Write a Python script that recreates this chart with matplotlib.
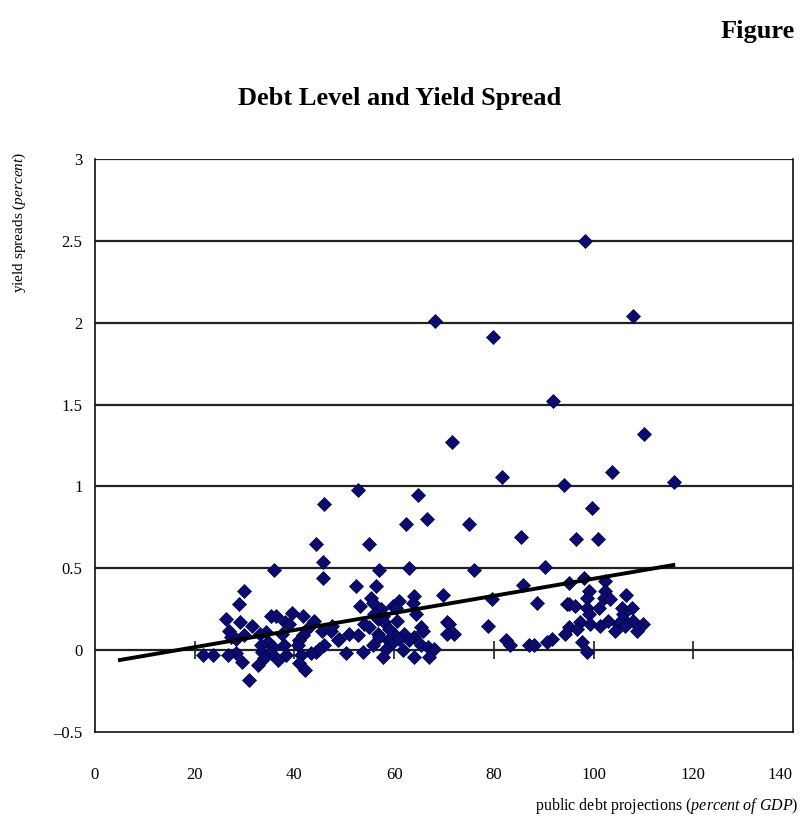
#!/usr/bin/env python3
import matplotlib
matplotlib.use("Agg")
import matplotlib.pyplot as plt

plt.rcParams['font.family'] = ['Liberation Serif', 'DejaVu Serif']
plt.rcParams['mathtext.fontset'] = 'custom'
plt.rcParams['mathtext.rm'] = 'Liberation Serif'
plt.rcParams['mathtext.it'] = 'Liberation Serif:italic'

# public debt projections (percent of GDP) vs yield spreads (percent)
debt = [98.3, 108.0, 68.2, 79.8, 91.8, 110.2, 71.7, 103.8, 116.1, 81.7,
        94.1, 52.7, 64.7, 46.0, 99.7, 66.5, 62.3, 75.1, 85.5, 96.5,
        100.8, 44.3, 55.0, 45.7, 36.0, 57.0, 63.0, 76.0, 90.2, 45.8,
        98.0, 52.3, 56.3, 85.8, 95.0, 102.3, 29.9, 69.9, 64.0, 106.5,
        102.3, 99.0, 55.3, 98.7, 102.0, 103.3, 79.7, 61.0, 28.8, 53.2,
        55.7, 59.7, 60.3, 63.7, 88.7, 94.7, 95.0, 96.3, 98.7, 101.0,
        105.7, 107.7, 57.3, 35.3, 36.3, 39.5, 41.7, 64.3, 57.7, 99.0,
        106.0, 26.3, 56.7, 106.0, 29.0, 38.2, 58.0, 70.7, 97.3, 103.0,
        108.0, 31.5, 39.0, 54.0, 71.0, 78.9, 99.3, 105.0, 110.0, 101.3,
        106.3, 43.0, 55.0, 65.3, 95.0, 96.7, 45.5, 47.3, 26.9, 65.7,
        104.3, 108.7, 34.3, 33.0, 72.0, 70.7, 51.0, 56.7, 60.0, 62.0,
        94.3, 29.8, 41.7, 52.7, 27.3, 64.0, 28.3, 49.0, 91.7, 48.7,
        41.0, 58.7, 63.0, 82.5, 34.7, 59.7, 90.7, 97.7, 33.3, 38.0,
        40.7, 46.0, 55.7, 65.3, 83.3, 87.0, 88.0, 35.7, 66.7, 45.0,
        58.3, 68.0, 61.7, 44.3, 53.7, 33.5, 98.7, 35.3, 28.2, 43.3,
        50.3, 21.7, 23.7, 26.7, 38.3, 41.3, 33.9, 57.7, 64.0, 67.0,
        29.5, 41.0, 32.7, 42.2, 30.9, 57.0, 59.0, 61.0, 56.0, 60.5,
        44.0, 47.5, 37.5, 36.7]
spread = [2.50, 2.04, 2.01, 1.91, 1.52, 1.32, 1.27, 1.09, 1.03, 1.06,
          1.01, 0.98, 0.95, 0.89, 0.87, 0.80, 0.77, 0.77, 0.69, 0.68,
          0.68, 0.65, 0.65, 0.54, 0.49, 0.49, 0.50, 0.49, 0.51, 0.44,
          0.44, 0.39, 0.39, 0.40, 0.41, 0.42, 0.36, 0.34, 0.33, 0.34,
          0.36, 0.36, 0.32, 0.32, 0.32, 0.31, 0.31, 0.30, 0.28, 0.27,
          0.29, 0.27, 0.26, 0.29, 0.29, 0.28, 0.28, 0.27, 0.26, 0.26,
          0.26, 0.26, 0.25, 0.21, 0.21, 0.23, 0.21, 0.22, 0.21, 0.22,
          0.22, 0.19, 0.19, 0.19, 0.17, 0.17, 0.17, 0.17, 0.17, 0.18,
          0.18, 0.15, 0.16, 0.16, 0.16, 0.15, 0.16, 0.16, 0.16, 0.15,
          0.15, 0.14, 0.14, 0.14, 0.14, 0.13, 0.12, 0.12, 0.12, 0.12,
          0.12, 0.12, 0.11, 0.10, 0.10, 0.10, 0.10, 0.10, 0.10, 0.10,
          0.10, 0.09, 0.09, 0.09, 0.08, 0.08, 0.07, 0.07, 0.07, 0.06,
          0.06, 0.06, 0.06, 0.06, 0.05, 0.05, 0.05, 0.05, 0.03, 0.03,
          0.03, 0.03, 0.03, 0.03, 0.03, 0.03, 0.03, 0.02, 0.02, 0.01,
          0.01, 0.01, 0.00, -0.01, -0.01, -0.01, -0.01, -0.02, -0.02, -0.02,
          -0.02, -0.03, -0.03, -0.03, -0.03, -0.03, -0.05, -0.04, -0.04, -0.04,
          -0.07, -0.08, -0.09, -0.12, -0.18, 0.08, 0.13, 0.07, 0.22, 0.18,
          0.18, 0.15, 0.10, -0.06]

# fitted trend line end points
trend_x = [5, 116]
trend_y = [-0.06, 0.52]

x_ticks = [0, 20, 40, 60, 80, 100, 120, 140]
y_ticks = [-0.5, 0, 0.5, 1, 1.5, 2, 2.5, 3]
y_ticklabels = ["\u20130.5", "0", "0.5", "1", "1.5", "2", "2.5", "3"]

fig = plt.figure(figsize=(8.03, 8.17), dpi=100)
ax = fig.add_axes([0.1183, 0.104, 0.8692, 0.7014])

ax.set_xlim(0, 140)
ax.set_ylim(-0.5, 3)

# horizontal grid lines (zero line included)
for yv in y_ticks[1:]:
    ax.axhline(yv, color='#222222', lw=1.6, zorder=1)
# tick marks sitting on the zero line
ax.vlines(x_ticks[1:], -0.055, 0.055, color='#222222', lw=1.2, zorder=1)

ax.plot(debt, spread, linestyle='none', marker='D', markersize=7,
        color='#0b0b70', markeredgecolor='#000040', markeredgewidth=0.5, zorder=3)
ax.plot(trend_x, trend_y, color='black', lw=2.8, zorder=4)

ax.set_xticks(x_ticks)
ax.set_xticklabels([str(v) for v in x_ticks])
ax.set_yticks(y_ticks)
ax.set_yticklabels(y_ticklabels)
ax.tick_params(axis='x', length=0, pad=25, labelsize=12)
ax.tick_params(axis='y', length=0, pad=9, labelsize=12)
ax.get_xticklabels()[-1].set_horizontalalignment('right')

for side in ['left', 'right', 'bottom']:
    ax.spines[side].set_color('#111111')
    ax.spines[side].set_linewidth(1.2)
ax.spines['top'].set_visible(False)

fig.text(0.99, 0.961, "Figure", ha='right', va='center',
         fontsize=19, fontweight='bold')
fig.text(0.498, 0.880, "Debt Level and Yield Spread", ha='center', va='center',
         fontsize=19, fontweight='bold')
fig.text(0.024, 0.728, r"yield spreads $\mathit{(percent)}$", rotation=90,
         ha='center', va='center', fontsize=11)
fig.text(0.995, 0.014, r"public debt projections $\mathit{(percent\ of\ GDP)}$",
         ha='right', va='center', fontsize=11.5)

plt.savefig("out.png", dpi=100)
